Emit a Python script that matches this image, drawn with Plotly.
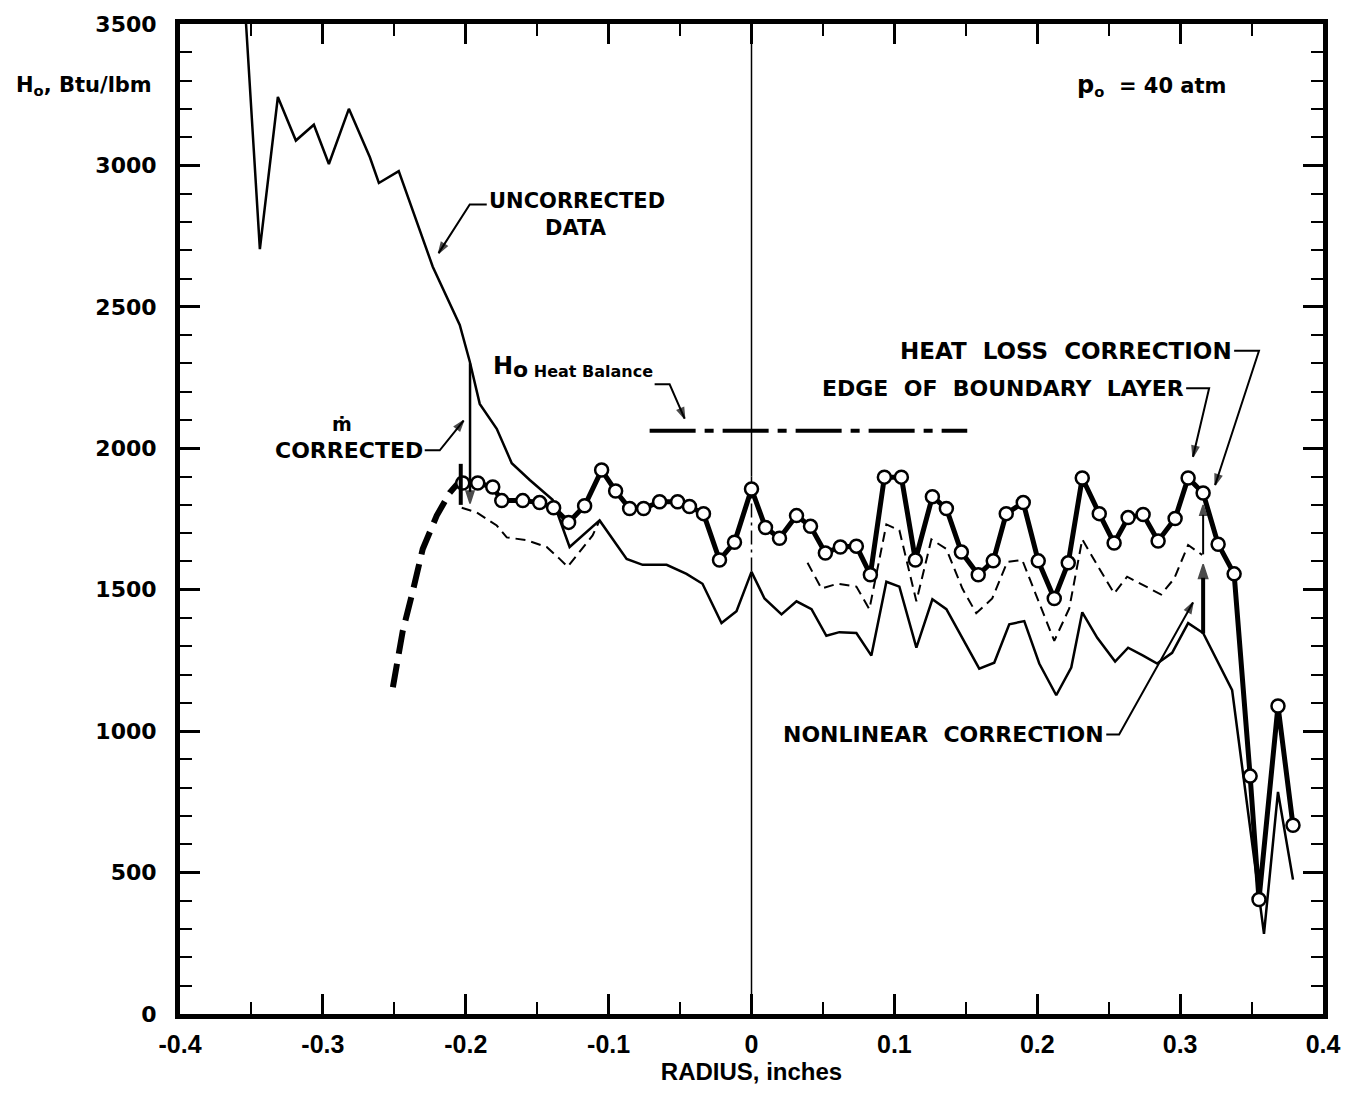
import plotly.graph_objects as go

# ---- Stagnation enthalpy profile across the jet, p0 = 40 atm ----
# Radius (inches) and H0 (Btu/lbm) for each curve

# Heat-loss corrected profile (open circles)
r_corr = [-0.2021, -0.1916, -0.1811, -0.1748, -0.1601, -0.1483, -0.1385, -0.1280,
          -0.1168, -0.1049, -0.0951, -0.0853, -0.0755, -0.0643, -0.0517, -0.0434,
          -0.0336, -0.0224, -0.0119, 0.0, 0.0098, 0.0196, 0.0315, 0.0413,
          0.0517, 0.0622, 0.0734, 0.0832, 0.0930, 0.1049, 0.1147, 0.1266,
          0.1364, 0.1469, 0.1587, 0.1692, 0.1783, 0.1902, 0.2007, 0.2119,
          0.2217, 0.2315, 0.2434, 0.2538, 0.2636, 0.2741, 0.2846, 0.2965,
          0.3056, 0.3161, 0.3266, 0.3378, 0.3490, 0.3552, 0.3685, 0.3790]
h_corr = [1877, 1877, 1863, 1815, 1815, 1808, 1790, 1738,
          1797, 1923, 1849, 1787, 1787, 1811, 1811, 1794,
          1769, 1605, 1668, 1856, 1720, 1682, 1762, 1724,
          1630, 1651, 1654, 1553, 1898, 1898, 1605, 1829,
          1787, 1633, 1553, 1602, 1769, 1808, 1602, 1469,
          1595, 1895, 1769, 1665, 1755, 1766, 1672, 1752,
          1895, 1842, 1661, 1556, 841, 405, 1089, 667]

# Uncorrected data (thin solid)
r_unc = [-0.3545, -0.3441, -0.3315, -0.3189, -0.3063, -0.2958, -0.2818, -0.2671,
         -0.2608, -0.2469, -0.2231, -0.2042, -0.1972, -0.1902, -0.1783, -0.1678,
         -0.1552, -0.1392, -0.1273, -0.1063, -0.0874, -0.0762, -0.0594, -0.0455,
         -0.0343, -0.0210, -0.0105, 0.0, 0.0091, 0.0210, 0.0315, 0.0420,
         0.0524, 0.0615, 0.0734, 0.0839, 0.0944, 0.1035, 0.1154, 0.1266,
         0.1364, 0.1476, 0.1594, 0.1699, 0.1804, 0.1909, 0.2014, 0.2133,
         0.2238, 0.2315, 0.2420, 0.2545, 0.2636, 0.2741, 0.2839, 0.2944,
         0.3056, 0.3161, 0.3364, 0.3587, 0.3685, 0.3790]
h_unc = [3560, 2704, 3242, 3088, 3144, 3005, 3200, 3029,
         2938, 2980, 2642, 2436, 2307, 2157, 2069, 1947,
         1888, 1818, 1651, 1745, 1609, 1588, 1588, 1556,
         1521, 1382, 1424, 1563, 1469, 1413, 1459, 1431,
         1337, 1350, 1347, 1267, 1528, 1511, 1295, 1466,
         1431, 1330, 1221, 1242, 1378, 1389, 1239, 1127,
         1225, 1420, 1330, 1246, 1295, 1267, 1239, 1277,
         1382, 1347, 1145, 283, 785, 475]

# Nonlinear correction (thin dashed); no separate curve between -0.1 and 0.04
r_nonlin = [-0.2028, -0.1923, -0.1783, -0.1713, -0.1573, -0.1434, -0.1343, -0.1287,
            -0.1112, -0.1063, None,
            0.0392, 0.0490, 0.0601, 0.0734, 0.0825, 0.0944, 0.1035, 0.1154,
            0.1259, 0.1364, 0.1476, 0.1573, 0.1685, 0.1790, 0.1895, 0.2014,
            0.2119, 0.2224, 0.2315, 0.2427, 0.2538, 0.2629, 0.2734, 0.2867,
            0.2958, 0.3056, 0.3154]
h_nonlin = [1790, 1773, 1727, 1685, 1675, 1651, 1609, 1581,
            1692, 1745, None,
            1595, 1504, 1521, 1511, 1431, 1731, 1710, 1459,
            1678, 1644, 1504, 1417, 1469, 1598, 1605, 1452,
            1319, 1434, 1678, 1581, 1487, 1546, 1518, 1483,
            1539, 1658, 1623]

# Extrapolated edge of the profile (heavy dashed)
r_edge = [-0.2510, -0.2441, -0.2371, -0.2301, -0.2203, -0.2112, -0.2042]
h_edge = [1155, 1354, 1494, 1644, 1762, 1843, 1884]

# Heat-balance enthalpy level and its radial extent
h_heat_balance = 2062
r_heat_balance = [-0.0713, 0.151]

x_ticks = [-0.4, -0.3, -0.2, -0.1, 0.0, 0.1, 0.2, 0.3, 0.4]
x_ticktext = ["-0.4", "-0.3", "-0.2", "-0.1", "0", "0.1", "0.2", "0.3", "0.4"]
y_ticks = [0, 500, 1000, 1500, 2000, 2500, 3000, 3500]

WIDE = "DejaVu Sans"
TALL = "Liberation Sans"
INK = "black"

fig = go.Figure()


def line_only(xs, ys, width, dash="solid"):
    fig.add_trace(go.Scatter(x=xs, y=ys, mode="lines", connectgaps=False,
                             line=dict(color=INK, width=width, dash=dash),
                             hoverinfo="skip"))


# Centre line of the jet: solid, dash-dot near the profile, then solid again
line_only([0, 0], [3500, 1900], 1.5)
line_only([0, 0], [1900, 1560], 1.5, dash="14px,5px,3px,5px")
line_only([0, 0], [1560, 0], 1.5)

line_only(r_unc, h_unc, 2.5)
line_only(r_nonlin, h_nonlin, 2, dash="10px,6px")
line_only(r_edge, h_edge, 6, dash="24px,10px")
line_only(r_heat_balance, [h_heat_balance] * 2, 4, dash="46px,9px,9px,9px")

fig.add_trace(go.Scatter(x=r_corr, y=h_corr, mode="lines+markers",
                         line=dict(color=INK, width=5),
                         marker=dict(symbol="circle", size=13, color="white",
                                     line=dict(color=INK, width=2.5)),
                         hoverinfo="skip"))

# Short bar marking the boundary-layer edge on the left side
fig.add_shape(type="line", x0=-0.2035, x1=-0.2035, y0=1800, y1=1945, xref="x", yref="y",
              line=dict(color=INK, width=4))


def leader(xs, ys, width=2, head=11):
    """Polyline ending in a solid arrowhead that follows the last segment."""
    n = len(xs)
    fig.add_trace(go.Scatter(
        x=xs, y=ys, mode="lines+markers",
        line=dict(color=INK, width=width),
        marker=dict(symbol="arrow", angleref="previous", color=INK,
                    size=[0] * (n - 1) + [head],
                    line=dict(width=1.5, color=INK)),
        hoverinfo="skip"))


def label(x, y, text, size=22, anchor="left", family=WIDE):
    fig.add_annotation(x=x, y=y, xref="x", yref="y", text=text, showarrow=False,
                       xanchor=anchor, yanchor="middle",
                       font=dict(family=family, size=size, color=INK))


# m-dot correction arrow at the left edge
leader([-0.197, -0.197], [2300, 1805], width=2.5, head=13)
# Nonlinear and heat-loss correction arrows at the right edge
leader([0.3161, 0.3161], [1345, 1590], width=4, head=15)
leader([0.3161, 0.3161], [1625, 1800], width=2, head=11)

# UNCORRECTED DATA
label(-0.1853, 2875, "<b>UNCORRECTED</b>", size=21)
label(-0.1230, 2780, "<b>DATA</b>", anchor="center", size=21)
leader([-0.1853, -0.1972, -0.2190], [2862, 2862, 2690])

# m-dot CORRECTED
label(-0.2287, 1993, "<b>CORRECTED</b>", anchor="right")
label(-0.2866, 2085, "<b>ṁ</b>", anchor="center", size=19)
leader([-0.2287, -0.2182, -0.2015], [1993, 1993, 2098])

# H0 heat balance
fig.add_annotation(x=-0.0678, y=2226, xref="x", yref="y", showarrow=False,
                   xanchor="right", yanchor="bottom",
                   text="<b><span style='font-size:24px'>H</span>"
                        "<sub><span style='font-size:22px'>o</span>"
                        "<span style='font-size:16px'> Heat Balance</span></sub></b>",
                   font=dict(family=WIDE, size=16, color=INK))
leader([-0.0678, -0.0573, -0.0468], [2226, 2226, 2105])

# HEAT LOSS CORRECTION
label(0.3378, 2345, "<b>HEAT  LOSS  CORRECTION</b>", anchor="right", size=23)
leader([0.3378, 0.3552, 0.3245], [2345, 2345, 1870])

# EDGE OF BOUNDARY LAYER
label(0.3042, 2212, "<b>EDGE  OF  BOUNDARY  LAYER</b>", anchor="right")
leader([0.3042, 0.3203, 0.3090], [2212, 2212, 1970])

# NONLINEAR CORRECTION
label(0.2483, 988, "<b>NONLINEAR  CORRECTION</b>", anchor="right")
leader([0.2483, 0.2573, 0.3090], [988, 988, 1455])

# Stagnation pressure
fig.add_annotation(x=0.2797, y=3284, xref="x", yref="y", showarrow=False,
                   xanchor="center", yanchor="middle",
                   text="<b><span style='font-size:24px'>p</span><sub>o</sub>  = 40 atm</b>",
                   font=dict(family=WIDE, size=21, color=INK))

# Y-axis title, placed beside the top of the axis
fig.add_annotation(x=-0.1449, y=0.9372, xref="paper", yref="paper", showarrow=False,
                   xanchor="left", yanchor="middle",
                   text="<b>H<sub>o</sub>, Btu/lbm</b>",
                   font=dict(family=WIDE, size=21, color=INK))

fig.update_layout(
    width=1352, height=1095,
    margin=dict(l=180, r=26, t=13, b=77),
    paper_bgcolor="white", plot_bgcolor="white",
    showlegend=False,
    xaxis=dict(
        range=[-0.4, 0.4], tickvals=x_ticks, ticktext=x_ticktext,
        showgrid=False, zeroline=False,
        showline=True, linecolor=INK, linewidth=5, mirror="allticks",
        ticks="inside", ticklen=20, tickwidth=2.5, tickcolor=INK,
        minor=dict(dtick=0.05, tick0=0, ticks="inside", ticklen=12,
                   tickwidth=2, tickcolor=INK, showgrid=False),
        tickfont=dict(family=TALL, size=25, color=INK, weight="bold"),
        ticklabelstandoff=4,
        title=dict(text="<b>RADIUS, inches</b>", standoff=8,
                   font=dict(family=TALL, size=24, color=INK)),
    ),
    yaxis=dict(
        range=[0, 3500], tickvals=y_ticks,
        showgrid=False, zeroline=False,
        showline=True, linecolor=INK, linewidth=5, mirror="allticks",
        ticks="inside", ticklen=20, tickwidth=2.5, tickcolor=INK,
        minor=dict(dtick=100, ticks="inside", ticklen=12,
                   tickwidth=2, tickcolor=INK, showgrid=False),
        tickfont=dict(family=WIDE, size=22, color=INK, weight="bold"),
        ticklabelstandoff=14,
    ),
)

fig.write_html("out.html")
